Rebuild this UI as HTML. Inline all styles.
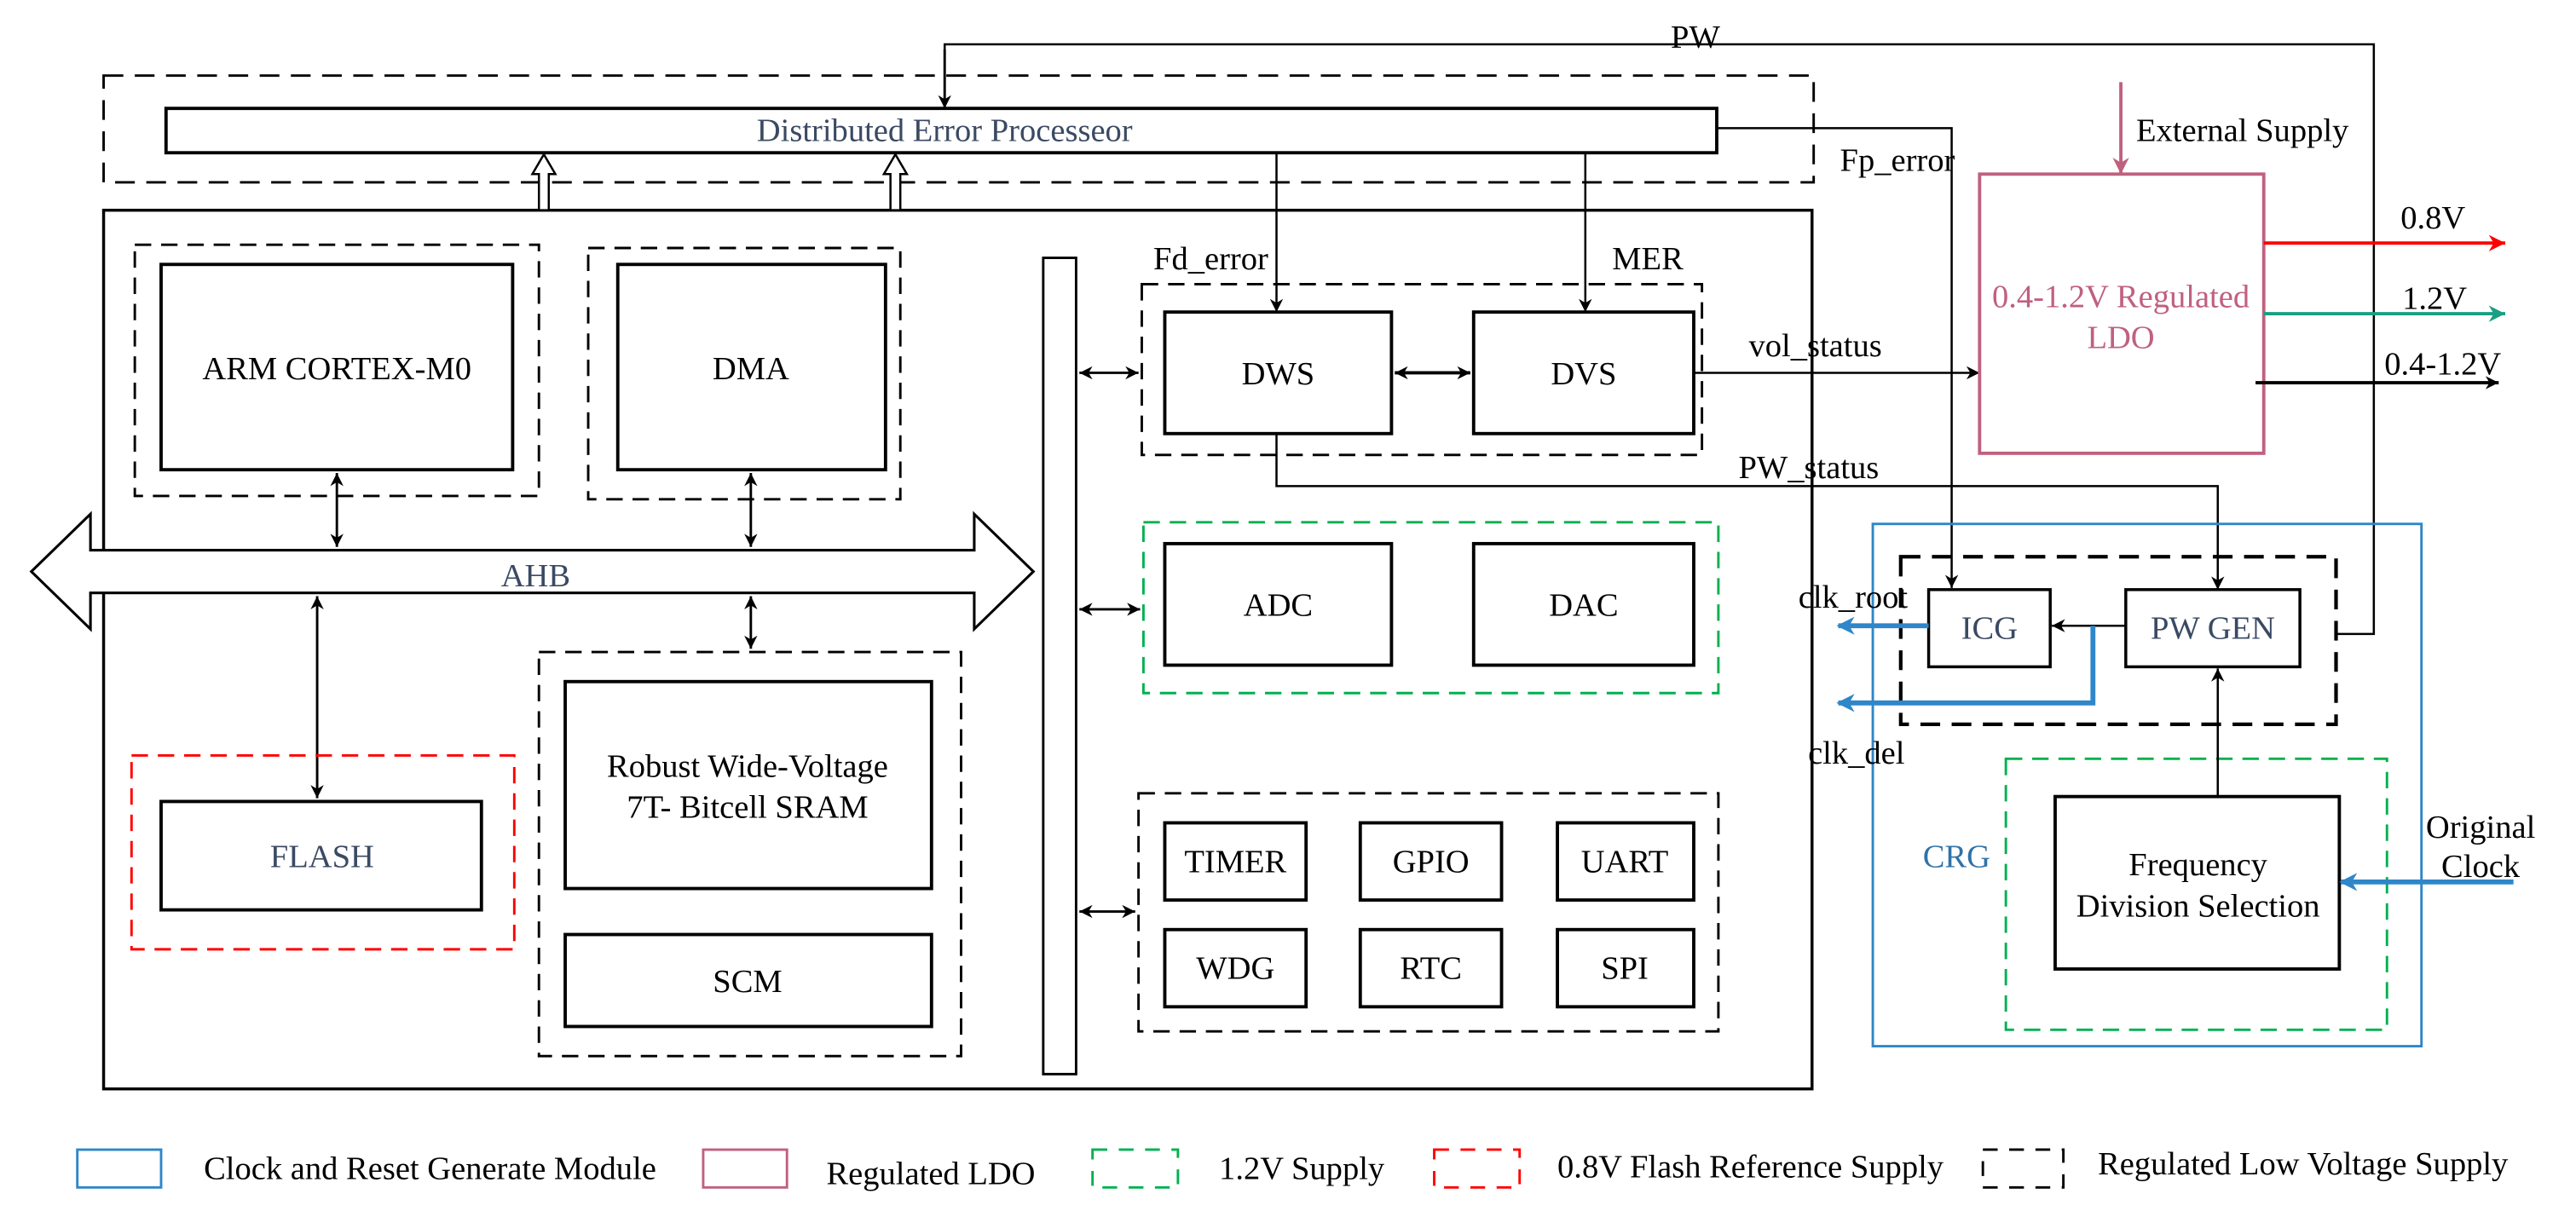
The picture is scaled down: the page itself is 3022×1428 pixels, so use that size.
<!DOCTYPE html>
<html><head><meta charset="utf-8"><style>html,body{margin:0;padding:0;background:#fff}svg{display:block}</style></head>
<body>
<svg width="3022" height="1428" viewBox="0 0 1568 741" xmlns="http://www.w3.org/2000/svg" font-family="Liberation Serif, serif" font-size="20">
<defs>
<marker id="a" viewBox="0 0 10 10" refX="10" refY="5" markerWidth="8" markerHeight="8" orient="auto-start-reverse" markerUnits="userSpaceOnUse"><path d="M0,0 L10,5 L0,10 L3,5 z" fill="#000"/></marker>
<marker id="ar" viewBox="0 0 10 10" refX="10" refY="5" markerWidth="10" markerHeight="10" orient="auto" markerUnits="userSpaceOnUse"><path d="M0,0 L10,5 L0,10 L3,5 z" fill="#f00"/></marker>
<marker id="at" viewBox="0 0 10 10" refX="10" refY="5" markerWidth="10" markerHeight="10" orient="auto" markerUnits="userSpaceOnUse"><path d="M0,0 L10,5 L0,10 L3,5 z" fill="#1a9e84"/></marker>
<marker id="ap" viewBox="0 0 10 10" refX="10" refY="5" markerWidth="10" markerHeight="10" orient="auto" markerUnits="userSpaceOnUse"><path d="M0,0 L10,5 L0,10 L3,5 z" fill="#c0607f"/></marker>
<marker id="ab" viewBox="0 0 10 10" refX="9" refY="5" markerWidth="11" markerHeight="11" orient="auto" markerUnits="userSpaceOnUse"><path d="M0,0 L10,5 L0,10 L3,5 z" fill="#2f86c8"/></marker>
</defs>
<g fill="none" stroke="#000" stroke-width="1.5">
<polyline points="575,66 575,27 1445,27 1445,386 1422,386" stroke-width="1.3"/>
<line x1="575" y1="30" x2="575" y2="66" marker-end="url(#a)"/>
<rect x="63" y="46" width="1041" height="65" stroke-dasharray="12,7"/>
<rect x="101" y="66" width="944" height="27" stroke-width="2"/>
<polyline points="1045,78 1188,78 1188,358" stroke-width="1.3" marker-end="url(#a)"/>
<line x1="965" y1="93" x2="965" y2="190" stroke-width="1.3" marker-end="url(#a)"/>
<line x1="777" y1="93" x2="777" y2="190" stroke-width="1.3" marker-end="url(#a)"/>
<rect x="63" y="128" width="1040" height="535" stroke-width="1.8"/>
<rect x="82" y="149" width="246" height="153" stroke-dasharray="10,6"/>
<rect x="98" y="161" width="214" height="125" stroke-width="2"/>
<rect x="358" y="151" width="190" height="153" stroke-dasharray="10,6"/>
<rect x="376" y="161" width="163" height="125" stroke-width="2"/>
<line x1="205" y1="288" x2="205" y2="333" marker-start="url(#a)" marker-end="url(#a)"/>
<line x1="457" y1="288" x2="457" y2="333" marker-start="url(#a)" marker-end="url(#a)"/>
<path d="M19,348 L55,313 L55,335 L593,335 L593,313 L629,348 L593,383 L593,361 L55,361 L55,383 Z" fill="#fff" stroke-width="1.6"/>
<line x1="193" y1="363" x2="193" y2="486" marker-start="url(#a)" marker-end="url(#a)"/>
<line x1="457" y1="363" x2="457" y2="395" marker-start="url(#a)" marker-end="url(#a)"/>
<rect x="80" y="460" width="233" height="118" stroke="#f00" stroke-dasharray="10,6"/>
<rect x="98" y="488" width="195" height="66" stroke-width="2"/>
<rect x="328" y="397" width="257" height="246" stroke-dasharray="10,6"/>
<rect x="344" y="415" width="223" height="126" stroke-width="2"/>
<rect x="344" y="569" width="223" height="56" stroke-width="2"/>
<rect x="635" y="157" width="20" height="497"/>
<line x1="657" y1="227" x2="693" y2="227" marker-start="url(#a)" marker-end="url(#a)"/>
<line x1="657" y1="371" x2="694" y2="371" marker-start="url(#a)" marker-end="url(#a)"/>
<line x1="657" y1="555" x2="691" y2="555" marker-start="url(#a)" marker-end="url(#a)"/>
<rect x="695" y="173" width="341" height="104" stroke-dasharray="10,6"/>
<rect x="709" y="190" width="138" height="74" stroke-width="2"/>
<rect x="897" y="190" width="134" height="74" stroke-width="2"/>
<line x1="849" y1="227" x2="895" y2="227" stroke-width="2" marker-start="url(#a)" marker-end="url(#a)"/>
<line x1="1031" y1="227" x2="1205" y2="227" stroke-width="1.3" marker-end="url(#a)"/>
<polyline points="777,264 777,296 1350,296 1350,359" stroke-width="1.3" marker-end="url(#a)"/>
<rect x="696" y="318" width="350" height="104" stroke="#00b050" stroke-dasharray="10,6"/>
<rect x="709" y="331" width="138" height="74" stroke-width="2"/>
<rect x="897" y="331" width="134" height="74" stroke-width="2"/>
<rect x="693" y="483" width="353" height="145" stroke-dasharray="10,6"/>
<rect x="709" y="501" width="86" height="47" stroke-width="2"/>
<rect x="828" y="501" width="86" height="47" stroke-width="2"/>
<rect x="948" y="501" width="83" height="47" stroke-width="2"/>
<rect x="709" y="566" width="86" height="47" stroke-width="2"/>
<rect x="828" y="566" width="86" height="47" stroke-width="2"/>
<rect x="948" y="566" width="83" height="47" stroke-width="2"/>
<rect x="1205" y="106" width="173" height="170" stroke="#c0607f" stroke-width="2"/>
<line x1="1291" y1="50" x2="1291" y2="106" stroke="#c0607f" stroke-width="2" marker-end="url(#ap)"/>
<line x1="1378" y1="148" x2="1525" y2="148" stroke="#f00" stroke-width="2" marker-end="url(#ar)"/>
<line x1="1378" y1="191" x2="1525" y2="191" stroke="#1a9e84" stroke-width="2" marker-end="url(#at)"/>
<line x1="1373" y1="233" x2="1521" y2="233" stroke-width="2" marker-end="url(#a)"/>
<rect x="1140" y="319" width="334" height="318" stroke="#2f86c8" stroke-width="1.5"/>
<rect x="1157" y="339" width="265" height="102" stroke-width="2.2" stroke-dasharray="12,7"/>
<rect x="1174" y="359" width="74" height="47" stroke-width="1.8"/>
<rect x="1294" y="359" width="106" height="47" stroke-width="1.8"/>
<line x1="1294" y1="381" x2="1249" y2="381" stroke-width="1.3" marker-end="url(#a)"/>
<line x1="1174" y1="381" x2="1119" y2="381" stroke="#2f86c8" stroke-width="3" marker-end="url(#ab)"/>
<polyline points="1274,381 1274,428 1119,428" stroke="#2f86c8" stroke-width="3" marker-end="url(#ab)"/>
<rect x="1221" y="462" width="232" height="165" stroke="#00b050" stroke-dasharray="10,6"/>
<rect x="1251" y="485" width="173" height="105" stroke-width="2"/>
<line x1="1350" y1="485" x2="1350" y2="407" stroke-width="1.3" marker-end="url(#a)"/>
<line x1="1530" y1="537" x2="1425" y2="537" stroke="#2f86c8" stroke-width="3" marker-end="url(#ab)"/>
<path d="M328,128 L328,106 L324,106 L331,94 L338,106 L334,106 L334,128 Z" fill="#fff" stroke-width="1.3"/>
<path d="M542,128 L542,106 L538,106 L545,94 L552,106 L548,106 L548,128 Z" fill="#fff" stroke-width="1.3"/>
<rect x="47" y="700" width="51" height="23" stroke="#2f86c8"/>
<rect x="428" y="700" width="51" height="23" stroke="#c0607f"/>
<rect x="665" y="700" width="52" height="23" stroke="#00b050" stroke-dasharray="9,7"/>
<rect x="873" y="700" width="52" height="23" stroke="#f00" stroke-dasharray="9,7"/>
<rect x="1207" y="700" width="49" height="23" stroke-dasharray="9,7"/>
</g>
<g fill="#000" text-anchor="middle">
<text x="1032" y="29">PW</text>
<text x="575" y="86" fill="#3a4a63">Distributed Error Processeor</text>
<text x="1155" y="104">Fp_error</text>
<text x="1003" y="164">MER</text>
<text x="737" y="164">Fd_error</text>
<text x="205" y="231">ARM CORTEX-M0</text>
<text x="457" y="231">DMA</text>
<text x="326" y="357" fill="#3a4a63">AHB</text>
<text x="196" y="528" fill="#3a4a63">FLASH</text>
<text x="455" y="473">Robust Wide-Voltage</text>
<text x="455" y="498">7T- Bitcell SRAM</text>
<text x="455" y="604">SCM</text>
<text x="778" y="234">DWS</text>
<text x="964" y="234">DVS</text>
<text x="1105" y="217">vol_status</text>
<text x="1101" y="291">PW_status</text>
<text x="778" y="375">ADC</text>
<text x="964" y="375">DAC</text>
<text x="752" y="531">TIMER</text>
<text x="871" y="531">GPIO</text>
<text x="989" y="531">UART</text>
<text x="752" y="596">WDG</text>
<text x="871" y="596">RTC</text>
<text x="989" y="596">SPI</text>
<text x="1365" y="86">External Supply</text>
<text x="1291" y="187" fill="#c0607f">0.4-1.2V Regulated</text>
<text x="1291" y="212" fill="#c0607f">LDO</text>
<text x="1481" y="139">0.8V</text>
<text x="1482" y="188">1.2V</text>
<text x="1487" y="228">0.4-1.2V</text>
<text x="1128" y="370">clk_root</text>
<text x="1130" y="465">clk_del</text>
<text x="1211" y="389" fill="#3a4a63">ICG</text>
<text x="1347" y="389" fill="#3a4a63">PW GEN</text>
<text x="1191" y="528" fill="#2f73a8">CRG</text>
<text x="1338" y="533">Frequency</text>
<text x="1338" y="558">Division Selection</text>
<text x="1510" y="510">Original</text>
<text x="1510" y="534">Clock</text>
</g>
<g fill="#000" text-anchor="start">
<text x="124" y="718">Clock and Reset Generate Module</text>
<text x="503" y="721">Regulated LDO</text>
<text x="742" y="718">1.2V Supply</text>
<text x="948" y="717">0.8V Flash Reference Supply</text>
<text x="1277" y="715">Regulated Low Voltage Supply</text>
</g>
</svg>
</body></html>
